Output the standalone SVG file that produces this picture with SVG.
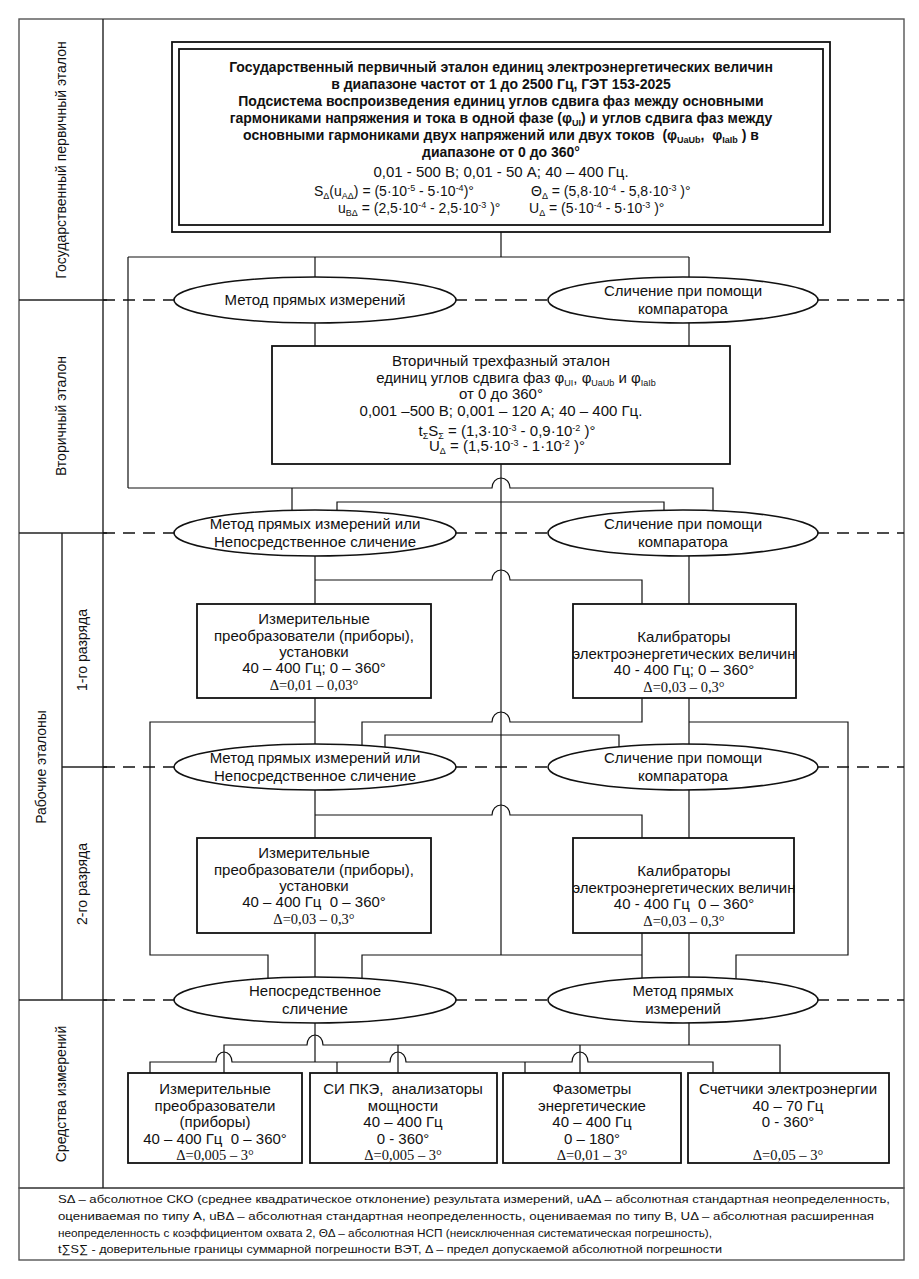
<svg xmlns="http://www.w3.org/2000/svg" width="919" height="1279" viewBox="0 0 919 1279">
<style>
.fr{fill:none;stroke:#222;stroke-width:1.4}
.fo{fill:none;stroke:#555;stroke-width:1.4}
.ln{fill:none;stroke:#111;stroke-width:1.2}
.dash{fill:none;stroke:#111;stroke-width:1.5;stroke-dasharray:12 8}
.bx{fill:#fff;stroke:#111;stroke-width:1.8}
.el{fill:#fff;stroke:#111;stroke-width:1.6}
text{font-family:"Liberation Sans",Arial,sans-serif;fill:#111}
.t{font-size:15px;text-anchor:middle}
.tb{font-size:14px;font-weight:bold;text-anchor:middle}
.f{font-size:14px}
.ts{font-family:"Liberation Serif","Times New Roman",serif;font-size:14.5px;text-anchor:middle}
.lbl{font-size:14px;text-anchor:middle}
.ft{font-size:11.5px}
.s{font-size:9px}
</style>
<rect x="0" y="0" width="919" height="1279" fill="#fff"/>
<g id="frame">
<rect class="fo" x="19" y="19" width="885" height="1169"/>
<rect class="fo" x="19" y="1188" width="885" height="72"/>
<line class="fr" x1="103" y1="19" x2="103" y2="1188"/>
<line class="fr" x1="62" y1="533" x2="62" y2="1000"/>
<line class="fr" x1="19" y1="300" x2="107" y2="300"/>
<line class="fr" x1="19" y1="533" x2="107" y2="533"/>
<line class="fr" x1="62" y1="767" x2="107" y2="767"/>
<line class="fr" x1="19" y1="1000" x2="107" y2="1000"/>
<text class="lbl" transform="translate(66 160) rotate(-90)">Государственный первичный эталон</text>
<text class="lbl" transform="translate(66 416) rotate(-90)">Вторичный эталон</text>
<text class="lbl" transform="translate(46 767) rotate(-90)">Рабочие эталоны</text>
<text class="lbl" transform="translate(87 650) rotate(-90)">1-го разряда</text>
<text class="lbl" transform="translate(87 884) rotate(-90)">2-го разряда</text>
<text class="lbl" transform="translate(66 1094) rotate(-90)">Средства измерений</text>
</g>
<g id="levels">
<path class="dash" d="M103,300 H174 M455,300 H549 M817,300 H904"/>
<path class="dash" d="M103,533 H174 M455,533 H549 M817,533 H904"/>
<path class="dash" d="M103,767 H174 M455,767 H549 M817,767 H904"/>
<path class="dash" d="M103,1000 H174 M455,1000 H549 M817,1000 H904"/>
</g>
<g id="connectors">
<path class="ln" d="M501,232 V257 M128,257 H689 M315,257 V280 M689,257 V280 M128,257 V488"/>
<path class="ln" d="M315,320 V346 M689,320 V346"/>
<path class="ln" d="M501,464 V955"/>
<path class="ln" d="M128,488 H492 A9 10 0 0 1 510,488 H713 V513 M292,488 V513"/>
<path class="ln" d="M337,513 V502 H664 V513"/>
<path class="ln" d="M315,553 V604 M689,553 V604 M315,580 H492 A9 10 0 0 1 510,580 H642 V604"/>
<path class="ln" d="M315,698 V747 M689,698 V747 M315,722 H150 V955 H268 V981"/>
<path class="ln" d="M362,748 V722 H492 A9 10 0 0 1 510,722 H642 V698"/>
<path class="ln" d="M689,722 H848 V955 H736 V981"/>
<path class="ln" d="M385,750 V735 H619 V750"/>
<path class="ln" d="M315,787 V838 M689,787 V838 M315,815 H492 A9 10 0 0 1 510,815 H642 V838"/>
<path class="ln" d="M315,933 V980 M642,933 V981 M689,933 V980 M362,981 V955 H642"/>
<path class="ln" d="M315,1020 V1062 M150,1073 V1062 H216 A8 10 0 0 1 232,1062 H390 A8 10 0 0 1 406,1062 H572 A8 10 0 0 1 588,1062 H713 V1073 M337,1062 V1073 M525,1062 V1073"/>
<path class="ln" d="M224,1073 V1045 H307 A8 10 0 0 1 323,1045 H780 V1073 M398,1045 V1073 M580,1045 V1073 M689,1020 V1045"/>
</g>
<g id="primary">
<rect class="bx" x="172" y="42" width="658" height="190" stroke-width="2.4"/>
<rect class="bx" x="179" y="49" width="644" height="176" stroke-width="2"/>
<text class="tb" x="501" y="72">Государственный первичный эталон единиц электроэнергетических величин</text>
<text class="tb" x="501" y="89">в диапазоне частот от 1 до 2500 Гц, ГЭТ 153-2025</text>
<text class="tb" x="501" y="106">Подсистема воспроизведения единиц углов сдвига фаз между основными</text>
<text class="tb" x="501" y="123">гармониками напряжения и тока в одной фазе (φ<tspan class="s" dy="3">UI</tspan><tspan dy="-3">) и углов сдвига фаз между</tspan></text>
<text class="tb" x="501" y="140" xml:space="preserve">основными гармониками двух напряжений или двух токов  (φ<tspan class="s" dy="3">UaUb</tspan><tspan dy="-3">,  φ</tspan><tspan class="s" dy="3">IaIb</tspan><tspan dy="-3"> ) в</tspan></text>
<text class="tb" x="501" y="157">диапазоне от 0 до 360°</text>
<text class="t" x="501" y="177" font-size="14">0,01 - 500 В; 0,01 - 50 А; 40 – 400 Гц.</text>
<text class="f" x="314" y="196">S<tspan class="s" dy="3">Δ</tspan><tspan dy="-3">(u</tspan><tspan class="s" dy="3">AΔ</tspan><tspan dy="-3">) = (5·10</tspan><tspan class="s" dy="-5">-5</tspan><tspan dy="5"> - 5·10</tspan><tspan class="s" dy="-5">-4</tspan><tspan dy="5">)°</tspan></text>
<text class="f" x="531" y="196">Θ<tspan class="s" dy="3">Δ</tspan><tspan dy="-3"> = (5,8·10</tspan><tspan class="s" dy="-5">-4</tspan><tspan dy="5"> - 5,8·10</tspan><tspan class="s" dy="-5">-3</tspan><tspan dy="5"> )°</tspan></text>
<text class="f" x="338" y="213">u<tspan class="s" dy="3">BΔ</tspan><tspan dy="-3"> = (2,5·10</tspan><tspan class="s" dy="-5">-4</tspan><tspan dy="5"> - 2,5·10</tspan><tspan class="s" dy="-5">-3</tspan><tspan dy="5"> )°</tspan></text>
<text class="f" x="529" y="213">U<tspan class="s" dy="3">Δ</tspan><tspan dy="-3"> = (5·10</tspan><tspan class="s" dy="-5">-4</tspan><tspan dy="5"> - 5·10</tspan><tspan class="s" dy="-5">-3</tspan><tspan dy="5"> )°</tspan></text>
</g>
<g id="m1a"><ellipse class="el" cx="315" cy="300" rx="141" ry="23"/><text class="t" x="315" y="305">Метод прямых измерений</text></g>
<g id="m1b"><ellipse class="el" cx="683" cy="300" rx="135" ry="23"/><text class="t" x="683" y="296">Сличение при помощи</text><text class="t" x="683" y="314">компаратора</text></g>
<g id="secondary">
<rect class="bx" x="272" y="346" width="458" height="118"/>
<text class="t" x="501" y="366">Вторичный трехфазный эталон</text>
<text class="t" x="516" y="383">единиц углов сдвига фаз φ<tspan class="s" dy="3">UI</tspan><tspan dy="-3">, φ</tspan><tspan class="s" dy="3">UaUb</tspan><tspan dy="-3"> и φ</tspan><tspan class="s" dy="3">IaIb</tspan></text>
<text class="t" x="501" y="399">от 0 до 360°</text>
<text class="t" x="501" y="416">0,001 –500 В; 0,001 – 120 А; 40 – 400 Гц.</text>
<text class="t" x="507" y="436" font-size="14">t<tspan class="s" dy="3">Σ</tspan><tspan dy="-3">S</tspan><tspan class="s" dy="3">Σ</tspan><tspan dy="-3"> = (1,3·10</tspan><tspan class="s" dy="-5">-3</tspan><tspan dy="5"> - 0,9·10</tspan><tspan class="s" dy="-5">-2</tspan><tspan dy="5"> )°</tspan></text>
<text class="t" x="507" y="451" font-size="14">U<tspan class="s" dy="3">Δ</tspan><tspan dy="-3"> = (1,5·10</tspan><tspan class="s" dy="-5">-3</tspan><tspan dy="5"> - 1·10</tspan><tspan class="s" dy="-5">-2</tspan><tspan dy="5"> )°</tspan></text>
</g>
<g id="m2a"><ellipse class="el" cx="315" cy="533" rx="141" ry="23"/><text class="t" x="315" y="529">Метод прямых измерений или</text><text class="t" x="315" y="547">Непосредственное сличение</text></g>
<g id="m2b"><ellipse class="el" cx="683" cy="533" rx="135" ry="23"/><text class="t" x="683" y="529">Сличение при помощи</text><text class="t" x="683" y="547">компаратора</text></g>
<g id="w1a">
<rect class="bx" x="197" y="604" width="234" height="94"/>
<text class="t" x="314" y="624">Измерительные</text>
<text class="t" x="314" y="641">преобразователи (приборы),</text>
<text class="t" x="314" y="657">установки</text>
<text class="t" x="314" y="673">40 – 400 Гц; 0 – 360°</text>
<text class="ts" x="314" y="690">Δ=0,01 – 0,03°</text>
</g>
<g id="w1b">
<rect class="bx" x="573" y="604" width="223" height="94"/>
<text class="t" x="684" y="642">Калибраторы</text>
<text class="t" x="684" y="659" font-size="14.5">электроэнергетических величин</text>
<text class="t" x="684" y="675">40 - 400 Гц; 0 – 360°</text>
<text class="ts" x="684" y="692">Δ=0,03 – 0,3°</text>
</g>
<g id="m3a"><ellipse class="el" cx="315" cy="767" rx="141" ry="23"/><text class="t" x="315" y="763">Метод прямых измерений или</text><text class="t" x="315" y="781">Непосредственное сличение</text></g>
<g id="m3b"><ellipse class="el" cx="683" cy="767" rx="135" ry="23"/><text class="t" x="683" y="763">Сличение при помощи</text><text class="t" x="683" y="781">компаратора</text></g>
<g id="w2a">
<rect class="bx" x="197" y="838" width="234" height="95"/>
<text class="t" x="314" y="858">Измерительные</text>
<text class="t" x="314" y="875">преобразователи (приборы),</text>
<text class="t" x="314" y="891">установки</text>
<text class="t" x="314" y="907" xml:space="preserve">40 – 400 Гц  0 – 360°</text>
<text class="ts" x="314" y="924">Δ=0,03 – 0,3°</text>
</g>
<g id="w2b">
<rect class="bx" x="573" y="838" width="221" height="95"/>
<text class="t" x="684" y="876">Калибраторы</text>
<text class="t" x="684" y="893" font-size="14.5">электроэнергетических величин</text>
<text class="t" x="684" y="909" xml:space="preserve">40 - 400 Гц  0 – 360°</text>
<text class="ts" x="684" y="926">Δ=0,03 – 0,3°</text>
</g>
<g id="m4a"><ellipse class="el" cx="315" cy="1000" rx="141" ry="23"/><text class="t" x="315" y="996">Непосредственное</text><text class="t" x="315" y="1014">сличение</text></g>
<g id="m4b"><ellipse class="el" cx="683" cy="1000" rx="135" ry="23"/><text class="t" x="683" y="996">Метод прямых</text><text class="t" x="683" y="1014">измерений</text></g>
<g id="si1">
<rect class="bx" x="128" y="1073" width="174" height="90"/>
<text class="t" x="215" y="1094">Измерительные</text>
<text class="t" x="215" y="1111">преобразователи</text>
<text class="t" x="215" y="1127">(приборы)</text>
<text class="t" x="215" y="1144" xml:space="preserve">40 – 400 Гц  0 – 360°</text>
<text class="ts" x="215" y="1160">Δ=0,005 – 3°</text>
</g>
<g id="si2">
<rect class="bx" x="310" y="1073" width="187" height="90"/>
<text class="t" x="403" y="1094" xml:space="preserve">СИ ПКЭ,  анализаторы</text>
<text class="t" x="403" y="1111">мощности</text>
<text class="t" x="403" y="1127">40 – 400 Гц</text>
<text class="t" x="403" y="1144">0 - 360°</text>
<text class="ts" x="403" y="1160">Δ=0,005 – 3°</text>
</g>
<g id="si3">
<rect class="bx" x="503" y="1073" width="178" height="90"/>
<text class="t" x="592" y="1094">Фазометры</text>
<text class="t" x="592" y="1111">энергетические</text>
<text class="t" x="592" y="1127">40 – 400 Гц</text>
<text class="t" x="592" y="1144">0 – 180°</text>
<text class="ts" x="592" y="1160">Δ=0,01 – 3°</text>
</g>
<g id="si4">
<rect class="bx" x="688" y="1073" width="201" height="90"/>
<text class="t" x="788" y="1094">Счетчики электроэнергии</text>
<text class="t" x="788" y="1111">40 – 70 Гц</text>
<text class="t" x="788" y="1127">0 - 360°</text>
<text class="ts" x="788" y="1160">Δ=0,05 – 3°</text>
</g>
<g id="footer">
<text class="ft" x="58" y="1203" textLength="832" lengthAdjust="spacingAndGlyphs">SΔ – абсолютное СКО (среднее квадратическое отклонение) результата измерений, uAΔ – абсолютная стандартная неопределенность,</text>
<text class="ft" x="58" y="1220" textLength="816" lengthAdjust="spacingAndGlyphs">оцениваемая по типу А, uBΔ – абсолютная стандартная неопределенность, оцениваемая по типу В, UΔ – абсолютная расширенная</text>
<text class="ft" x="58" y="1237" textLength="654" lengthAdjust="spacingAndGlyphs">неопределенность с коэффициентом охвата 2, ΘΔ – абсолютная НСП (неисключенная систематическая погрешность),</text>
<text class="ft" x="58" y="1253" textLength="664" lengthAdjust="spacingAndGlyphs">t∑S∑ - доверительные границы суммарной погрешности ВЭТ, Δ – предел допускаемой абсолютной погрешности</text>
</g>
</svg>
